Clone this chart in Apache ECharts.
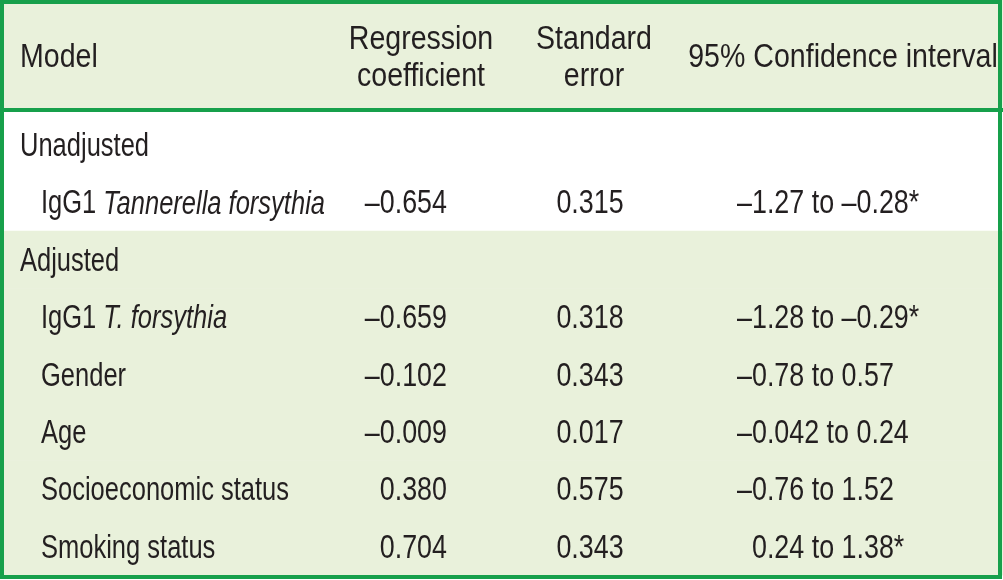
<!DOCTYPE html>
<html>
<head>
<meta charset="utf-8">
<script src="https://cdn.jsdelivr.net/npm/echarts@6/dist/echarts.min.js"></script>
<style>
html,body{margin:0;padding:0;background:#fff;}
#chart{width:1003px;height:580px;}
</style>
</head>
<body>
<div id="chart"></div>
<script>
// ---- data ----
const columnHeaders = ['Model', 'Regression\ncoefficient', 'Standard\nerror', '95% Confidence interval'];
const rowLabels = ['Unadjusted', 'IgG1 {i|Tannerella forsythia}', 'Adjusted', 'IgG1 {i|T. forsythia}', 'Gender', 'Age', 'Socioeconomic status', 'Smoking status'];
const rowKinds = ['section', 'item', 'section', 'item', 'item', 'item', 'item', 'item'];
const rowSections = [0, 0, 1, 1, 1, 1, 1, 1];
const coefficients = [null, -0.654, null, -0.659, -0.102, -0.009, 0.380, 0.704];
const standardErrors = [null, 0.315, null, 0.318, 0.343, 0.017, 0.575, 0.343];
const ciLower = [null, -1.27, null, -1.28, -0.78, -0.042, -0.76, 0.24];
const ciUpper = [null, -0.28, null, -0.29, 0.57, 0.24, 1.52, 1.38];
const significant = [false, true, false, true, false, false, false, true];

// ---- style / layout ----
const FONT = "'Liberation Sans', Arial, sans-serif";
const FS = 34;
const SX_LABEL = 0.75;   // horizontal condensing to mimic a condensed face
const SX_NUM = 0.79;
const SX_HEAD = 0.84;
const DY = 2;
const TEXT = '#231f20';
const GREEN = '#17a04b';
const PALE = '#e9f1db';
const sectionFill = ['#ffffff', PALE];
const W = 1003;
// column anchors in axis units
const headerAnchor = [{x: 20, align: 'left'}, {x: 421, align: 'center'}, {x: 594, align: 'center'}, {x: 843, align: 'center'}];
const sectionX = 20, itemX = 41, coefRight = 447, seCenter = 590, ciLeft = 737;

const dash = s => s.replace('-', '\u2013');
const fmt3 = v => dash(v.toFixed(3));
const fmtN = v => dash(String(v));

function txt(x, y, text, align, sx, extra) {
  return {
    type: 'text', x: x, y: y + DY, scaleX: sx, scaleY: 1,
    style: Object.assign({
      text: text, fill: TEXT, fontSize: FS, fontFamily: FONT,
      align: align, verticalAlign: 'middle',
      rich: {
        i: {fontStyle: 'italic', fontSize: FS, fontFamily: FONT, fill: TEXT},
        h: {fontSize: FS, fontFamily: FONT, fill: 'rgba(0,0,0,0)'}
      }
    }, extra || {})
  };
}

const chart = echarts.init(document.getElementById('chart'), null, {renderer: 'canvas'});
chart.setOption({
  animation: false,
  backgroundColor: '#ffffff',
  grid: [
    {left: 0, right: 0, top: 4, height: 104},
    {left: 0, right: 0, top: 116, bottom: 5}
  ],
  xAxis: [
    {type: 'value', gridIndex: 0, min: 0, max: W, show: false},
    {type: 'value', gridIndex: 1, min: 0, max: W, show: false}
  ],
  yAxis: [
    {type: 'category', gridIndex: 0, data: ['header'], show: false},
    {type: 'category', gridIndex: 1, data: rowLabels, inverse: true, show: false}
  ],
  graphic: [{
    type: 'rect', z: 100, silent: true,
    shape: {x: 2, y: 2, width: 998, height: 575},
    style: {fill: 'none', stroke: GREEN, lineWidth: 4}
  }],
  series: [
    {
      type: 'custom', xAxisIndex: 0, yAxisIndex: 0,
      data: [[0, 0]],
      renderItem: function (params, api) {
        const c = api.coord([0, 0]);
        const h = api.size([0, 1])[1];
        const top = c[1] - h / 2;
        const children = [{
          type: 'rect', shape: {x: 0, y: top - 4, width: W, height: h + 4},
          style: {fill: PALE}
        }, {
          type: 'line', shape: {x1: 0, y1: top + h + 2, x2: W, y2: top + h + 2},
          style: {stroke: GREEN, lineWidth: 4}
        }];
        columnHeaders.forEach(function (t, k) {
          const p = api.coord([headerAnchor[k].x, 0]);
          children.push(txt(p[0], p[1], t, headerAnchor[k].align, SX_HEAD, {lineHeight: 37}));
        });
        return {type: 'group', children: children};
      }
    },
    {
      type: 'custom', xAxisIndex: 1, yAxisIndex: 1,
      data: rowLabels.map(function (_, i) { return [0, i]; }),
      renderItem: function (params, api) {
        const i = api.value(1);
        const c = api.coord([0, i]);
        const h = api.size([0, 1])[1];
        const y = c[1];
        const children = [{
          type: 'rect', shape: {x: 0, y: y - h / 2, width: W, height: h + 0.5},
          style: {fill: sectionFill[rowSections[i]]}
        }];
        const lx = api.coord([rowKinds[i] === 'section' ? sectionX : itemX, i])[0];
        children.push(txt(lx, y, rowLabels[i], 'left', SX_LABEL));
        if (coefficients[i] !== null) {
          children.push(txt(api.coord([coefRight, i])[0], y, fmt3(coefficients[i]), 'right', SX_NUM));
          children.push(txt(api.coord([seCenter, i])[0], y, fmt3(standardErrors[i]), 'center', SX_NUM));
          const pad = ciLower[i] < 0 ? '' : '{h|\u2013}';
          const ci = pad + fmtN(ciLower[i]) + ' to ' + fmtN(ciUpper[i]) + (significant[i] ? '*' : '');
          children.push(txt(api.coord([ciLeft, i])[0], y, ci, 'left', SX_NUM));
        }
        return {type: 'group', children: children};
      }
    }
  ]
});
</script>
</body>
</html>
